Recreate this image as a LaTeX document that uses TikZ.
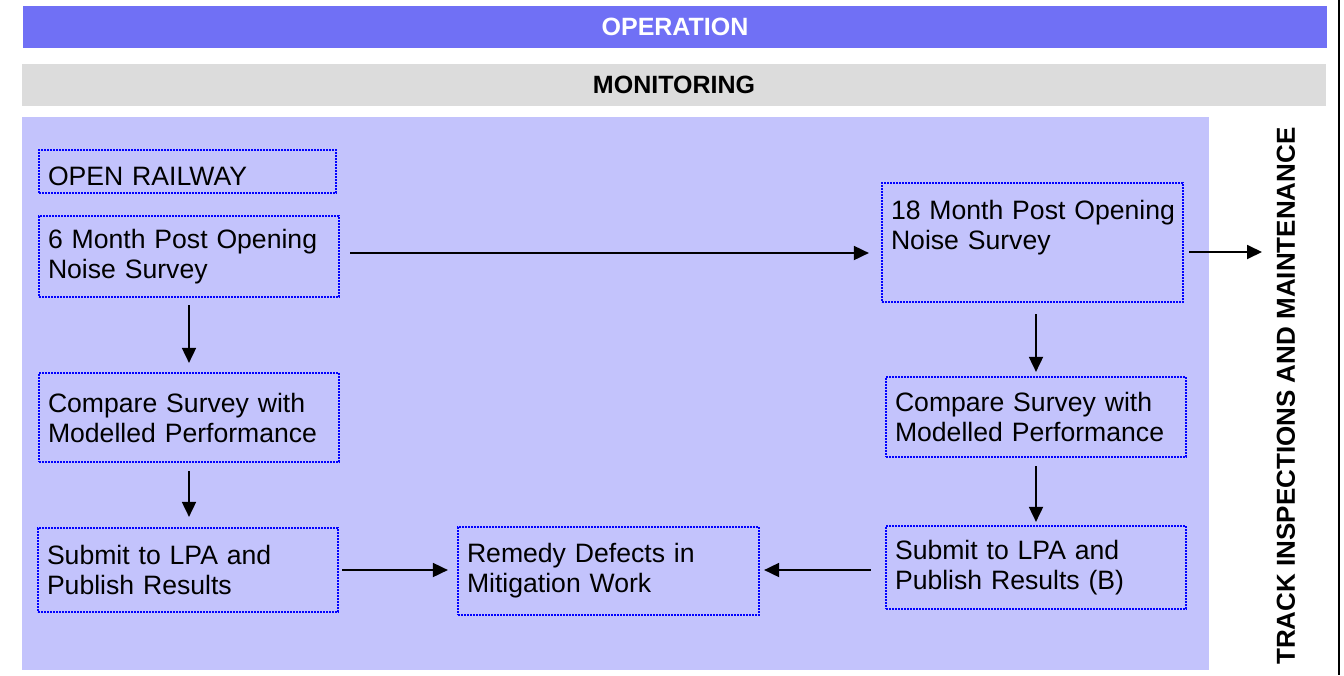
\documentclass[tikz,border=0pt]{standalone}
\usepackage{fontspec}
\setmainfont{Liberation Sans}
\usetikzlibrary{arrows.meta}
\definecolor{opblue}{RGB}{112,112,245}
\definecolor{mongray}{RGB}{220,220,220}
\definecolor{gridblue}{RGB}{195,195,252}
\definecolor{boxblue}{RGB}{0,0,255}
\begin{document}
\begin{tikzpicture}[x=0.5pt,y=-0.5pt,
  band/.style={draw=none, inner sep=0pt, font=\fontsize{12.5pt}{14pt}\selectfont\bfseries},
  stagebox/.style={draw=boxblue, line width=1.1pt, dash pattern=on 0.85pt off 0.65pt,
    inner xsep=4.5pt, inner ysep=0pt, align=left, text width=141pt,
    font=\fontsize{13.3pt}{15pt}\selectfont},
  arr/.style={draw=black, line width=0.9pt, -{Triangle[length=7.5pt,width=7pt]}}]
\useasboundingbox (0,0) rectangle (1344,675);
% bands
\node[band, fill=opblue, minimum width=652pt, minimum height=21pt, text=white] (operation) at (675,27) {OPERATION};
\node[band, fill=mongray, minimum width=652pt, minimum height=21pt, text=black] (monitoring) at (674,85) {MONITORING};
% monitoring area
\fill[gridblue] (22,117) rectangle (1209,670);
% right border line
\draw[line width=1pt] (1339,0) -- (1339,675);
% rotated title
\node[rotate=90, inner sep=0pt, font=\fontsize{13pt}{15pt}\selectfont\bfseries] (track) at (1286,396) {TRACK INSPECTIONS AND MAINTENANCE};
% boxes
\node[stagebox, minimum height=21.5pt, text width=139.5pt, text height=14pt, text depth=0pt] (open) at (187.5,171.5) {\mbox{OPEN RAILWAY}};
\node[stagebox, minimum height=40.5pt] (six) at (189,256.5) {\mbox{6 Month Post Opening}\\\mbox{Noise Survey}};
\node[stagebox, minimum height=44.5pt] (compL) at (189,417.5) {\mbox{Compare Survey with}\\\mbox{Modelled Performance}};
\node[stagebox, minimum height=42pt] (subL) at (188,570) {\mbox{Submit to LPA and}\\\mbox{Publish Results}};
\node[stagebox, minimum height=44pt, text width=141.5pt] (remedy) at (608.5,571) {\mbox{Remedy Defects in}\\\mbox{Mitigation Work}};
\node[stagebox, minimum height=59.5pt, text width=141.5pt] (eighteen) at (1032.5,242.5) {\mbox{18 Month Post Opening}\\\mbox{Noise Survey}\\[2.5pt]\mbox{}};
\node[stagebox, minimum height=40pt] (compR) at (1036,417) {\mbox{Compare Survey with}\\\mbox{Modelled Performance}};
\node[stagebox, minimum height=41.5pt] (subB) at (1036,567.5) {\mbox{Submit to LPA and}\\\mbox{Publish Results (B)}};
\coordinate (maintIn) at (1262,252);
% connectors
\draw[arr, shorten <=3.5pt, shorten >=4.5pt] (six.south) -- (compL.north);
\draw[arr, shorten <=4pt, shorten >=5pt] (compL.south) -- (subL.north -| compL.south);
\draw[arr, shorten <=5.5pt, shorten >=2pt] (eighteen.south -| compR.north) -- (compR.north);
\draw[arr, shorten <=4pt, shorten >=1.5pt] (compR.south) -- (subB.north);
\draw[arr, shorten <=5pt, shorten >=6pt] ([yshift=1.75pt]six.east) -- ([yshift=1.75pt]six.east -| eighteen.west);
\draw[arr, shorten <=1.5pt, shorten >=4.5pt] (subL.east) -- (subL.east -| remedy.west);
\draw[arr, shorten <=7pt, shorten >=2pt] (subB.west |- subL.east) -- (remedy.east |- subL.east);
\draw[arr, shorten <=2.5pt] ([yshift=-4.75pt]eighteen.east) -- (maintIn);
\end{tikzpicture}
\end{document}
